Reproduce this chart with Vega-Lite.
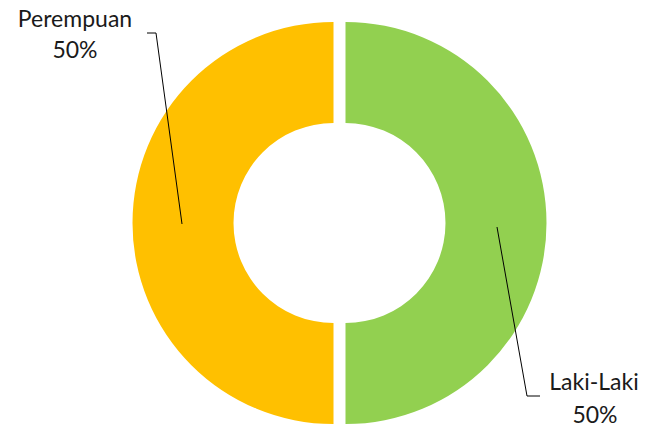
{
  "$schema": "https://vega.github.io/schema/vega-lite/v6.json",
  "width": 645,
  "height": 429,
  "autosize": {"type": "fit", "contains": "padding"},
  "padding": 0,
  "background": "white",
  "view": {"stroke": null},
  "datasets": {
    "share": [
      {"gender": "Laki-Laki", "percent": 50},
      {"gender": "Perempuan", "percent": 50}
    ],
    "labels": [
      {"text": "Perempuan", "lx": -264.5, "ly": -196.3},
      {"text": "50%", "lx": -264.5, "ly": -165},
      {"text": "Laki-Laki", "lx": 254.5, "ly": 167},
      {"text": "50%", "lx": 255.5, "ly": 199.5}
    ],
    "leaders": [
      {"label": "Perempuan", "step": 1, "lx": -157.5, "ly": 1},
      {"label": "Perempuan", "step": 2, "lx": -183.5, "ly": -190},
      {"label": "Perempuan", "step": 3, "lx": -192.5, "ly": -190},
      {"label": "Laki-Laki", "step": 1, "lx": 157.5, "ly": 4},
      {"label": "Laki-Laki", "step": 2, "lx": 187.5, "ly": 173},
      {"label": "Laki-Laki", "step": 3, "lx": 200.5, "ly": 173}
    ]
  },
  "layer": [
    {
      "data": {"name": "share"},
      "mark": {
        "type": "arc",
        "outerRadius": 201,
        "innerRadius": 100,
        "xOffset": {"expr": "datum.gender === 'Laki-Laki' ? 6 : -6"}
      },
      "encoding": {
        "theta": {"field": "percent", "type": "quantitative", "stack": true},
        "order": {"field": "gender", "type": "nominal"},
        "color": {
          "field": "gender",
          "type": "nominal",
          "scale": {"domain": ["Laki-Laki", "Perempuan"], "range": ["#92D050", "#FFC000"]},
          "legend": null
        },
        "x": {"datum": 0, "type": "quantitative", "scale": {"domain": [-339.5, 305.5], "nice": false, "zero": false}, "axis": null},
        "y": {"datum": 0, "type": "quantitative", "scale": {"domain": [-223, 206], "reverse": true, "nice": false, "zero": false}, "axis": null}
      }
    },
    {
      "data": {"name": "leaders"},
      "mark": {"type": "line", "color": "black", "strokeWidth": 1},
      "encoding": {
        "x": {"field": "lx", "type": "quantitative"},
        "y": {"field": "ly", "type": "quantitative"},
        "detail": {"field": "label"},
        "order": {"field": "step", "type": "quantitative"}
      }
    },
    {
      "data": {"name": "labels"},
      "mark": {"type": "text", "font": "Lato", "fontSize": 23, "color": "#1a1a1a", "align": "center", "baseline": "alphabetic"},
      "encoding": {
        "x": {"field": "lx", "type": "quantitative"},
        "y": {"field": "ly", "type": "quantitative"},
        "text": {"field": "text"}
      }
    }
  ]
}
